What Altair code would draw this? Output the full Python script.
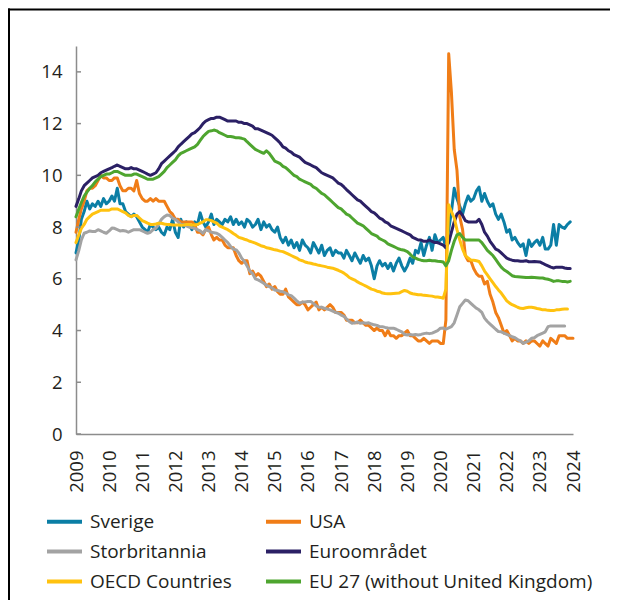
import altair as alt
import pandas as pd

series_names = ["Sverige", "USA", "Storbritannia", "Euroområdet",
                "OECD Countries", "EU 27 (without United Kingdom)"]
series_colors = ["#0B7EA5", "#F07D17", "#A3A3A3", "#2B2065", "#FFC20F", "#4EA52F"]
legend_order = ["Sverige", "Storbritannia", "OECD Countries",
                "USA", "Euroområdet", "EU 27 (without United Kingdom)"]
start_month = "2009-01-01"
year_ticks = list(range(2009, 2025))
y_ticks = [0, 2, 4, 6, 8, 10, 12, 14]

sverige = [
    7.0, 7.5, 8.3, 8.6, 9.0, 8.7, 8.9, 8.8, 9.0, 8.8, 9.1, 8.9,
    9.0, 9.2, 9.0, 9.5, 8.9, 8.9, 8.6, 8.5, 8.4, 8.5, 8.4, 8.2,
    8.0, 7.9, 7.8, 8.1, 8.0, 7.9, 8.0, 7.8, 7.7, 8.0, 7.9, 8.3,
    7.8, 7.6, 8.3, 8.0, 8.2, 8.1, 7.9, 8.2, 8.1, 8.55, 8.2, 8.0,
    8.2, 8.5, 8.1, 8.3, 8.2, 8.1, 8.3, 8.2, 8.4, 8.1, 8.3, 8.1,
    8.2, 8.0, 8.3, 8.2, 8.0, 8.1, 8.3, 7.9, 8.2, 8.0, 8.1, 7.9,
    7.8, 8.0, 7.6, 7.4, 7.6, 7.3, 7.5, 7.2, 7.4, 7.1, 7.5, 7.3,
    7.2, 7.0, 7.4, 7.2, 7.0, 7.3, 6.9, 7.1, 7.2, 6.9, 7.1, 7.0,
    7.0, 6.8, 7.1, 6.9, 6.7, 7.0, 6.8, 6.6, 6.9, 6.7, 6.8, 6.5,
    6.0, 6.5, 6.7, 6.5, 6.6, 6.4, 6.6, 6.3, 6.6, 6.8, 6.5, 6.3,
    6.5, 6.8, 6.6, 7.1, 7.0, 7.4, 6.9, 7.3, 7.6, 7.1, 7.7, 7.4,
    7.5, 7.6, 7.2, 7.9, 8.6, 9.5, 9.1, 8.8, 8.5, 8.9, 9.2, 9.0,
    9.1, 9.4, 9.55, 9.0, 9.3, 9.0, 8.8, 8.9, 8.5, 8.3, 8.5, 8.2,
    7.8, 7.9, 7.5, 7.6, 7.4, 7.25, 7.35, 6.9, 7.5, 7.25, 7.4, 7.5,
    7.3, 7.6, 7.15, 7.15, 7.3, 8.1, 7.3, 8.1, 8.0, 7.95, 8.1, 8.2,
]

usa = [
    7.8, 8.3, 8.7, 9.0, 9.4, 9.5, 9.5, 9.6, 9.8, 10.0, 9.9, 9.9,
    9.8, 9.8, 9.9, 9.9, 9.6, 9.4, 9.4, 9.5, 9.5, 9.4, 9.8, 9.3,
    9.1, 9.0, 9.0, 9.1, 9.0, 9.1, 9.0, 9.0, 9.0, 8.8, 8.6, 8.5,
    8.3, 8.3, 8.2, 8.2, 8.2, 8.2, 8.2, 8.1, 7.8, 7.8, 7.7, 7.9,
    8.0, 7.7, 7.5, 7.6, 7.5, 7.5, 7.3, 7.2, 7.2, 7.2, 6.9, 6.7,
    6.6, 6.7, 6.7, 6.2, 6.3, 6.1, 6.2, 6.1, 5.9, 5.7, 5.8, 5.6,
    5.7, 5.5, 5.4, 5.4, 5.6, 5.3, 5.2, 5.1, 5.0, 5.0, 5.1, 5.0,
    4.8, 4.9, 5.0, 5.1, 4.8, 4.9, 4.8, 4.9, 5.0, 4.9, 4.7, 4.7,
    4.7, 4.6, 4.4, 4.4, 4.4, 4.3, 4.3, 4.4, 4.3, 4.2, 4.2, 4.1,
    4.0, 4.1, 4.0, 4.0, 3.8, 4.0, 3.8, 3.8, 3.7, 3.8, 3.8, 3.9,
    4.0, 3.8, 3.8, 3.7, 3.6, 3.6, 3.7, 3.6, 3.5, 3.6, 3.6, 3.6,
    3.5, 3.5, 4.4, 14.7, 13.2, 11.0, 10.2, 8.4, 7.9, 6.9, 6.7, 6.7,
    6.4, 6.2, 6.1, 6.1, 5.8, 5.9, 5.4, 5.1, 4.7, 4.5, 4.2, 3.9,
    4.0, 3.8, 3.6, 3.7, 3.6, 3.6, 3.5, 3.6, 3.5, 3.6, 3.6, 3.5,
    3.4, 3.6, 3.5, 3.4, 3.7, 3.6, 3.5, 3.8, 3.8, 3.8, 3.7, 3.7,
    3.7,
]

storbritannia = [
    6.73, 7.1, 7.5, 7.76, 7.8, 7.85, 7.83, 7.83, 7.9, 7.85, 7.8, 7.76,
    7.85, 7.96, 7.95, 7.9, 7.85, 7.87, 7.85, 7.8, 7.85, 7.9, 7.9, 7.9,
    7.85, 7.8, 7.76, 7.8, 7.9, 7.96, 8.1, 8.3, 8.4, 8.47, 8.45, 8.34,
    8.3, 8.2, 8.1, 8.09, 8.05, 8.0, 7.98, 7.95, 7.9, 7.85, 7.76, 7.9,
    7.85, 7.8, 7.78, 7.76, 7.7, 7.6, 7.5, 7.4, 7.25, 7.15, 7.12, 7.0,
    6.8, 6.67, 6.5, 6.3, 6.2, 6.0, 5.96, 5.9, 5.83, 5.75, 5.7, 5.65,
    5.57, 5.55, 5.52, 5.5, 5.45, 5.38, 5.35, 5.25, 5.15, 5.06, 5.1, 5.1,
    5.12, 5.12, 5.05, 4.95, 4.9, 4.9, 4.86, 4.83, 4.8, 4.75, 4.7, 4.67,
    4.6, 4.55, 4.45, 4.35, 4.28, 4.3, 4.33, 4.28, 4.3, 4.28, 4.3, 4.25,
    4.22, 4.2, 4.15, 4.15, 4.12, 4.1, 4.09, 4.09, 4.05, 4.0, 3.95, 3.85,
    3.83, 3.85, 3.83, 3.85, 3.83, 3.85, 3.88, 3.9, 3.88, 3.9, 3.95, 4.0,
    4.09, 4.1, 4.05, 4.1, 4.15, 4.3, 4.6, 4.92, 5.05, 5.18, 5.15, 5.05,
    4.95, 4.86, 4.8, 4.7, 4.48, 4.35, 4.25, 4.15, 4.05, 3.96, 3.95, 3.9,
    3.85, 3.8, 3.76, 3.72, 3.65, 3.6, 3.5, 3.55, 3.6, 3.7, 3.72, 3.8,
    3.85, 3.9, 3.95, 4.15, 4.18, 4.18, 4.18, 4.18, 4.18, 4.18,
]

euroomradet = [
    8.8, 9.1, 9.4, 9.6, 9.7, 9.8, 9.9, 9.95, 10.0, 10.1, 10.15, 10.2,
    10.25, 10.3, 10.35, 10.4, 10.35, 10.3, 10.25, 10.25, 10.3, 10.25, 10.25, 10.2,
    10.15, 10.1, 10.05, 10.0, 10.05, 10.1, 10.25, 10.45, 10.55, 10.65, 10.75, 10.85,
    10.95, 11.1, 11.2, 11.3, 11.4, 11.5, 11.6, 11.65, 11.75, 11.85, 12.0, 12.1,
    12.15, 12.2, 12.2, 12.25, 12.25, 12.2, 12.15, 12.1, 12.1, 12.1, 12.1, 12.05,
    12.05, 12.0, 12.0, 11.95, 11.9, 11.8, 11.8, 11.75, 11.7, 11.65, 11.6, 11.55,
    11.45, 11.35, 11.25, 11.1, 11.05, 10.95, 10.9, 10.8, 10.75, 10.7, 10.6, 10.5,
    10.45, 10.4, 10.35, 10.3, 10.2, 10.1, 10.05, 10.0, 9.95, 9.9, 9.8, 9.7,
    9.65, 9.55, 9.45, 9.35, 9.25, 9.15, 9.05, 9.0, 8.9, 8.8, 8.7, 8.6,
    8.55, 8.45, 8.35, 8.3, 8.2, 8.15, 8.05, 8.0, 7.95, 7.9, 7.85, 7.8,
    7.75, 7.7, 7.6, 7.55, 7.5, 7.5, 7.45, 7.45, 7.5, 7.45, 7.4, 7.4,
    7.35, 7.3, 7.2, 7.4, 7.8, 8.2, 8.5, 8.6, 8.45, 8.25, 8.2, 8.2,
    8.2, 8.2, 8.3, 8.1, 7.8, 7.65, 7.45, 7.3, 7.15, 7.1, 7.0, 6.9,
    6.8, 6.75, 6.72, 6.7, 6.7, 6.68, 6.68, 6.7, 6.66, 6.66, 6.67, 6.66,
    6.65, 6.6, 6.55, 6.5, 6.45, 6.42, 6.45, 6.45, 6.45, 6.42, 6.4, 6.4,
]

oecd = [
    7.4, 7.7, 7.95, 8.1, 8.3, 8.4, 8.5, 8.55, 8.6, 8.65, 8.65, 8.65,
    8.65, 8.7, 8.7, 8.7, 8.65, 8.6, 8.55, 8.45, 8.4, 8.45, 8.45, 8.35,
    8.25, 8.2, 8.15, 8.1, 8.1, 8.12, 8.15, 8.15, 8.12, 8.1, 8.1, 8.08,
    8.08, 8.08, 8.07, 8.08, 8.1, 8.1, 8.08, 8.08, 8.1, 8.15, 8.2, 8.28,
    8.28, 8.25, 8.2, 8.15, 8.05, 8.0, 7.95, 7.9, 7.83, 7.75, 7.68, 7.6,
    7.57, 7.53, 7.5, 7.45, 7.42, 7.38, 7.33, 7.28, 7.25, 7.2, 7.18, 7.15,
    7.12, 7.1, 7.07, 7.05, 7.0, 6.95, 6.9, 6.85, 6.8, 6.73, 6.7, 6.65,
    6.62, 6.6, 6.57, 6.55, 6.52, 6.5, 6.48, 6.45, 6.43, 6.41, 6.37, 6.33,
    6.28, 6.22, 6.15, 6.05, 6.0, 5.95, 5.88, 5.82, 5.77, 5.72, 5.66, 5.6,
    5.57, 5.52, 5.5, 5.45, 5.43, 5.42, 5.42, 5.43, 5.44, 5.45, 5.5, 5.55,
    5.52, 5.45, 5.42, 5.4, 5.38, 5.38, 5.36, 5.35, 5.34, 5.33, 5.3, 5.3,
    5.28, 5.25, 5.6, 8.86, 8.6, 8.35, 7.9, 7.5, 7.15, 6.9, 6.8, 6.73,
    6.72, 6.7, 6.67, 6.5, 6.3, 6.15, 6.0, 5.85, 5.7, 5.57, 5.45, 5.3,
    5.15, 5.06, 5.0, 4.95, 4.9, 4.86, 4.85, 4.88, 4.9, 4.9, 4.88, 4.85,
    4.83, 4.8, 4.8, 4.78, 4.77, 4.77, 4.8, 4.8, 4.82, 4.83, 4.83,
]

eu27 = [
    8.4, 8.7, 8.95, 9.2, 9.35, 9.5, 9.6, 9.75, 9.85, 9.95, 10.0, 10.05,
    10.05, 10.1, 10.15, 10.15, 10.1, 10.05, 10.0, 10.0, 10.0, 10.05, 10.05, 10.0,
    9.95, 9.9, 9.85, 9.85, 9.85, 9.9, 9.95, 10.05, 10.15, 10.3, 10.4, 10.5,
    10.6, 10.75, 10.85, 10.9, 10.95, 11.0, 11.05, 11.1, 11.2, 11.35, 11.5, 11.6,
    11.7, 11.72, 11.75, 11.72, 11.65, 11.6, 11.55, 11.5, 11.5, 11.48, 11.45, 11.45,
    11.43, 11.4, 11.3, 11.2, 11.1, 11.0, 10.95, 10.9, 10.85, 10.95, 10.85, 10.7,
    10.55, 10.5, 10.45, 10.35, 10.3, 10.2, 10.1, 10.0, 9.95, 9.85, 9.8, 9.75,
    9.7, 9.65, 9.55, 9.5, 9.4, 9.3, 9.25, 9.15, 9.05, 8.95, 8.85, 8.75,
    8.7, 8.6, 8.5, 8.45, 8.35, 8.25, 8.15, 8.1, 8.05, 7.95, 7.85, 7.75,
    7.7, 7.65, 7.55, 7.5, 7.45, 7.35, 7.3, 7.25, 7.2, 7.15, 7.12, 7.1,
    7.05, 6.95, 6.85, 6.8, 6.75, 6.72, 6.7, 6.7, 6.72, 6.7, 6.7, 6.68,
    6.67, 6.65, 6.5, 6.7, 7.1, 7.45, 7.7, 7.75, 7.6, 7.5, 7.5, 7.5,
    7.5, 7.5, 7.5, 7.4, 7.25, 7.1, 7.0, 6.9, 6.75, 6.6, 6.45, 6.35,
    6.28, 6.2, 6.12, 6.09, 6.08, 6.07, 6.06, 6.05, 6.05, 6.06, 6.05, 6.04,
    6.03, 6.03, 6.0, 5.98, 5.95, 5.9, 5.92, 5.92, 5.9, 5.9, 5.88, 5.9,
]

all_series = [sverige, usa, storbritannia, euroomradet, oecd, eu27]

rows = []
for name, values in zip(series_names, all_series):
    dates = pd.date_range(start_month, periods=len(values), freq="MS")
    for d, v in zip(dates, values):
        rows.append({"date": d.strftime("%Y-%m-%d"), "series": name, "value": v})
df = pd.DataFrame(rows)

color_of = dict(zip(series_names, series_colors))
legend_colors = [color_of[n] for n in legend_order]

FONT = "Open Sans"
TXT = "#231F20"
AX = "#8C8C8C"

x_scale = alt.Scale(domain=[alt.DateTime(year=2009, month=1, date=1),
                            alt.DateTime(year=2024, month=1, date=1)])
y_scale = alt.Scale(domain=[0, 15], nice=False)
y_axis = alt.Axis(values=y_ticks, ticks=False, grid=False, labelPadding=14, title=None)

lines = alt.Chart(df).mark_line(strokeWidth=3, strokeJoin="round", strokeCap="round").encode(
    x=alt.X("date:T", scale=x_scale, title=None,
            axis=alt.Axis(values=[alt.DateTime(year=y, month=1, date=1) for y in year_ticks],
                          format="%Y", labelAngle=-90, labelFlush=False, labelOverlap=False,
                          labelPadding=16, ticks=False, grid=False, title=None)),
    y=alt.Y("value:Q", scale=y_scale, title=None, axis=y_axis),
    color=alt.Color("series:N", scale=alt.Scale(domain=legend_order, range=legend_colors),
                    legend=alt.Legend(orient="none", legendX=-31, legendY=456, columns=2,
                                      title=None, symbolType="stroke", symbolSize=1225,
                                      symbolStrokeWidth=4, labelFontSize=19, labelFont=FONT,
                                      labelColor=TXT, rowPadding=-5, columnPadding=26,
                                      labelOffset=6, padding=0, labelLimit=500)),
)

tick_df = pd.DataFrame({"v": y_ticks})
yticks = alt.Chart(tick_df).mark_rule(color=AX, strokeWidth=1.5).encode(
    y=alt.Y("v:Q", scale=y_scale, title=None, axis=y_axis),
    x=alt.value(0), x2=alt.value(5),
)

one = pd.DataFrame({"k": [0]})
frame_top = alt.Chart(one).mark_rule(color="black", strokeWidth=2).encode(
    x=alt.value(-68), x2=alt.value(540), y=alt.value(-36.5))
frame_left = alt.Chart(one).mark_rule(color="black", strokeWidth=2).encode(
    x=alt.value(-67), y=alt.value(-37.5), y2=alt.value(560))

chart = alt.layer(lines, yticks, frame_top, frame_left).properties(
    width=497, height=388,
    autosize=alt.AutoSizeParams(type="none"),
    padding={"left": 68, "top": 38, "right": 37, "bottom": 166},
).configure_view(strokeWidth=0).configure_axis(
    labelFont=FONT, labelFontSize=18.5, labelColor=TXT,
    domainColor=AX, domainWidth=1.5,
)

chart.save("out.html", embed_options={"renderer": "svg", "actions": False})
